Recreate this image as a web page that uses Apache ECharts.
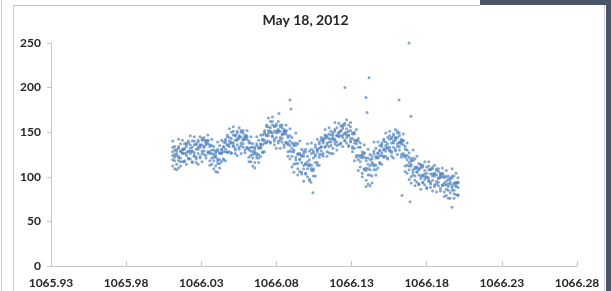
<!DOCTYPE html>
<html>
<head>
<meta charset="utf-8">
<title>May 18, 2012</title>
<script src="https://cdn.jsdelivr.net/npm/echarts@6/dist/echarts.min.js"></script>
<style>
    html, body { margin: 0; padding: 0; background: #fff; }
    #scatter_chart { width: 611px; height: 291px; }
</style>
</head>
<body>
<div id="scatter_chart"></div>
<script>
// 数据：每列一个时间点，列内为该时间附近的采样值
var xOrigin = 1065.93;
var xTicks = ['1065.93', '1065.98', '1066.03', '1066.08', '1066.13', '1066.18', '1066.23', '1066.28'];
var yTicks = [0, 50, 100, 150, 200, 250];

var sampleX = [
    1066.0110, 1066.0123, 1066.0136, 1066.0149, 1066.0162, 1066.0175, 1066.0188, 1066.0201, 1066.0214, 1066.0227,
    1066.0240, 1066.0253, 1066.0266, 1066.0279, 1066.0292, 1066.0305, 1066.0318, 1066.0331, 1066.0344, 1066.0357,
    1066.0370, 1066.0383, 1066.0396, 1066.0409, 1066.0422, 1066.0435, 1066.0448, 1066.0461, 1066.0474, 1066.0487,
    1066.0500, 1066.0513, 1066.0526, 1066.0539, 1066.0552, 1066.0565, 1066.0578, 1066.0591, 1066.0604, 1066.0617,
    1066.0630, 1066.0643, 1066.0656, 1066.0669, 1066.0682, 1066.0695, 1066.0708, 1066.0721, 1066.0734, 1066.0747,
    1066.0760, 1066.0773, 1066.0786, 1066.0799, 1066.0812, 1066.0825, 1066.0838, 1066.0851, 1066.0864, 1066.0877,
    1066.0890, 1066.0903, 1066.0916, 1066.0929, 1066.0942, 1066.0955, 1066.0968, 1066.0981, 1066.0994, 1066.1007,
    1066.1020, 1066.1033, 1066.1046, 1066.1059, 1066.1072, 1066.1085, 1066.1098, 1066.1111, 1066.1124, 1066.1137,
    1066.1150, 1066.1163, 1066.1176, 1066.1189, 1066.1202, 1066.1215, 1066.1228, 1066.1241, 1066.1254, 1066.1267,
    1066.1280, 1066.1293, 1066.1306, 1066.1319, 1066.1332, 1066.1345, 1066.1358, 1066.1371, 1066.1384, 1066.1397,
    1066.1410, 1066.1423, 1066.1436, 1066.1449, 1066.1462, 1066.1475, 1066.1488, 1066.1501, 1066.1514, 1066.1527,
    1066.1540, 1066.1553, 1066.1566, 1066.1579, 1066.1592, 1066.1605, 1066.1618, 1066.1631, 1066.1644, 1066.1657,
    1066.1670, 1066.1683, 1066.1696, 1066.1709, 1066.1722, 1066.1735, 1066.1748, 1066.1761, 1066.1774, 1066.1787,
    1066.1800, 1066.1813, 1066.1826, 1066.1839, 1066.1852, 1066.1865, 1066.1878, 1066.1891, 1066.1904, 1066.1917,
    1066.1930, 1066.1943, 1066.1956, 1066.1969, 1066.1982, 1066.1995, 1066.2008
];

var sampleY = [
    [112,119,124,128,133,140], [109,118,122,125,130,134], [108,114,124,126,129,131], [118,121,123,132,134,142],
    [112,117,121,128,129,137], [117,126,127,130,131,141], [117,118,126,131,132,137], [114,124,127,134,136,138],
    [120,121,128,129,138,140], [120,126,129,132,136,146], [116,117,128,129,133,140], [123,124,127,136,140,145],
    [116,120,122,131,136,137], [114,126,131,133,139,141], [121,123,133,135,136,145], [117,126,129,136,141,143],
    [125,129,133,134,141,144], [121,124,136,138,139,141], [127,128,137,140,141,147], [113,118,126,128,134,136],
    [114,121,126,130,135,142], [109,118,122,125,130,134], [106,112,122,124,127,129], [115,118,120,129,131,139],
    [110,115,119,126,127,135], [117,126,127,130,131,141], [119,120,128,133,134,139], [118,128,131,138,140,142],
    [127,128,135,136,145,147], [128,134,137,140,144,154], [126,127,138,139,143,150], [134,135,138,147,151,156],
    [126,130,132,141,146,147], [124,136,141,143,149,151], [131,133,143,145,146,155], [126,135,138,145,150,152],
    [133,137,141,142,149,152], [127,130,142,144,145,147], [132,133,142,145,146,152], [117,122,130,132,138,140],
    [117,124,129,133,138,145], [112,121,125,128,133,137], [110,116,126,128,131,133], [121,124,126,135,137,145],
    [116,121,125,132,133,141], [123,132,133,136,137,147], [127,128,136,141,142,147], [128,138,141,148,150,152],
    [138,139,146,147,156,158], [140,146,149,152,156,166], [138,139,150,151,155,162], [145,146,149,158,162,167],
    [136,140,142,151,156,157], [132,144,149,151,157,159], [138,140,150,152,153,162], [132,141,144,151,156,158],
    [139,143,147,148,155,158], [133,136,148,150,151,153], [138,139,148,151,152,158], [123,128,136,138,144,146],
    [120,129,135,140,146,154], [111,123,128,132,138,144], [105,114,128,130,135,137], [115,119,122,135,138,149],
    [102,109,115,125,126,137], [106,119,120,125,126,140], [103,105,116,123,124,131], [95,109,113,123,126,129],
    [103,104,114,115,128,131], [100,109,113,117,123,137], [96,97,112,114,119,129], [107,109,113,126,131,138],
    [101,107,109,121,127,129], [101,116,123,125,133,136], [113,116,128,130,131,142], [113,122,125,132,137,139],
    [125,129,133,134,141,144], [123,126,138,140,141,143], [133,134,143,146,147,153], [123,128,136,138,144,146],
    [127,134,139,143,148,155], [126,135,139,142,147,151], [126,132,142,144,147,149], [137,140,142,151,153,161],
    [130,135,139,146,147,155], [136,145,146,149,150,160], [137,138,146,151,152,157], [134,144,147,154,156,158],
    [140,141,148,149,158,160], [138,144,147,150,154,164], [134,135,146,147,151,158], [139,140,143,152,156,161],
    [128,132,134,143,148,149], [118,132,138,141,148,150], [122,124,137,140,141,153], [107,119,124,133,140,143],
    [111,117,122,124,133,138], [100,104,121,124,125,128], [108,109,122,126,127,136], [89,96,107,110,118,121],
    [92,102,109,114,121,131], [90,102,108,112,119,125], [93,101,114,116,120,123], [108,112,114,126,129,139],
    [102,108,113,121,123,132], [110,121,122,126,127,139], [115,116,124,129,130,135], [114,124,127,134,136,138],
    [122,123,130,131,140,142], [123,129,132,135,139,149], [120,121,132,133,137,144], [129,130,133,142,146,151],
    [123,127,129,138,143,144], [121,133,138,140,146,148], [129,131,141,143,144,153], [125,134,137,144,149,151],
    [130,134,138,139,146,149], [122,125,137,139,140,142], [124,126,136,140,141,148], [106,112,122,124,131,134],
    [104,113,119,124,130,138], [97,108,112,116,122,127], [93,100,112,114,118,120], [102,105,108,118,121,130],
    [90,96,101,109,111,120], [94,105,106,110,111,123], [91,92,102,108,109,115], [86,98,101,110,112,114],
    [93,94,101,102,111,113], [91,97,100,103,107,117], [87,88,99,100,104,111], [95,96,99,108,112,117],
    [88,92,94,103,108,109], [84,96,101,103,109,111], [89,91,101,103,104,113], [83,92,95,102,107,109],
    [90,94,98,99,106,109], [84,87,99,101,102,104], [90,91,100,103,104,110], [78,83,91,93,99,101],
    [79,86,91,95,100,107], [76,85,89,92,97,101], [76,82,92,94,97,99], [85,88,90,99,101,109],
    [76,81,85,92,93,101], [80,89,90,93,94,104], [79,80,88,93,94,99]
];

// 离群点
var outlierX = [1066.1682, 1066.1256, 1066.1416, 1066.1396, 1066.1616, 1066.1403, 1066.1695, 1066.0890, 1066.0897, 1066.0817,
                1066.1636, 1066.1689, 1066.1968, 1066.1043, 1066.1030, 1066.0409, 1066.0148];
var outlierY = [250, 200, 211, 189, 186, 172, 168, 186, 176, 171, 79, 72, 66, 82, 94, 105, 110];

var buildPoints = function () {
    var pts = [];
    for (var i = 0; i < sampleX.length; i++) {
        for (var j = 0; j < sampleY[i].length; j++) {
            pts.push([sampleX[i] - xOrigin, sampleY[i][j]]);
        }
    }
    for (var k = 0; k < outlierX.length; k++) {
        pts.push([outlierX[k] - xOrigin, outlierY[k]]);
    }
    return pts;
};

var e = echarts.init(document.getElementById('scatter_chart'));
var labelFont = {
    fontFamily: 'Lato',
    fontWeight: 'bold',
    fontSize: 12,
    color: '#262626'
};
var option = {
    animation: false,
    backgroundColor: '#fff',
    title: {
        text: 'May 18, 2012',
        left: 'center',
        top: 13,
        padding: 0,
        textStyle: {
            fontFamily: 'Lato',
            fontWeight: 'bold',
            fontSize: 14,
            color: '#262626'
        }
    },
    grid: {
        left: 51,
        right: 34,
        top: 43,
        bottom: 25
    },
    xAxis: {
        type: 'value',
        min: 0,
        max: 0.35,
        interval: 0.05,
        splitLine: { show: false },
        axisLine: { lineStyle: { color: '#c6c6c6' } },
        axisTick: { inside: true, length: 5, lineStyle: { color: '#c6c6c6' } },
        axisLabel: {
            margin: 11,
            fontFamily: labelFont.fontFamily,
            fontWeight: labelFont.fontWeight,
            fontSize: labelFont.fontSize,
            color: labelFont.color,
            formatter: function (v) {
                return xTicks[Math.round(v / 0.05)];
            }
        }
    },
    yAxis: {
        type: 'value',
        min: yTicks[0],
        max: yTicks[yTicks.length - 1],
        interval: 50,
        splitLine: { show: false },
        axisLine: { show: true, lineStyle: { color: '#c6c6c6' } },
        axisTick: { show: true, length: 4, lineStyle: { color: '#c6c6c6' } },
        axisLabel: {
            margin: 10,
            fontFamily: labelFont.fontFamily,
            fontWeight: labelFont.fontWeight,
            fontSize: labelFont.fontSize,
            color: labelFont.color
        }
    },
    graphic: [
        // 截图边框
        { type: 'line', shape: { x1: 1.5, y1: 0, x2: 1.5, y2: 291 }, style: { stroke: '#cfcfcf', lineWidth: 1 } },
        { type: 'line', shape: { x1: 13.5, y1: 5, x2: 13.5, y2: 291 }, style: { stroke: '#cfcfcf', lineWidth: 1 } },
        { type: 'line', shape: { x1: 13, y1: 5.5, x2: 480, y2: 5.5 }, style: { stroke: '#c4c4c4', lineWidth: 1 } },
        { type: 'rect', shape: { x: 480, y: 0, width: 131, height: 5 }, style: { fill: '#4a5567' } },
        { type: 'line', shape: { x1: 604.5, y1: 5, x2: 604.5, y2: 291 }, style: { stroke: '#d5d5d5', lineWidth: 1 } },
        { type: 'rect', shape: { x: 606, y: 0, width: 5, height: 291 }, style: { fill: '#4a5567' } }
    ],
    series: [
        {
            type: 'scatter',
            data: buildPoints(),
            symbol: 'circle',
            symbolSize: 3,
            itemStyle: {
                color: '#4f81bd',
                opacity: 0.7
            }
        }
    ]
};
e.setOption(option);
</script>
</body>
</html>
